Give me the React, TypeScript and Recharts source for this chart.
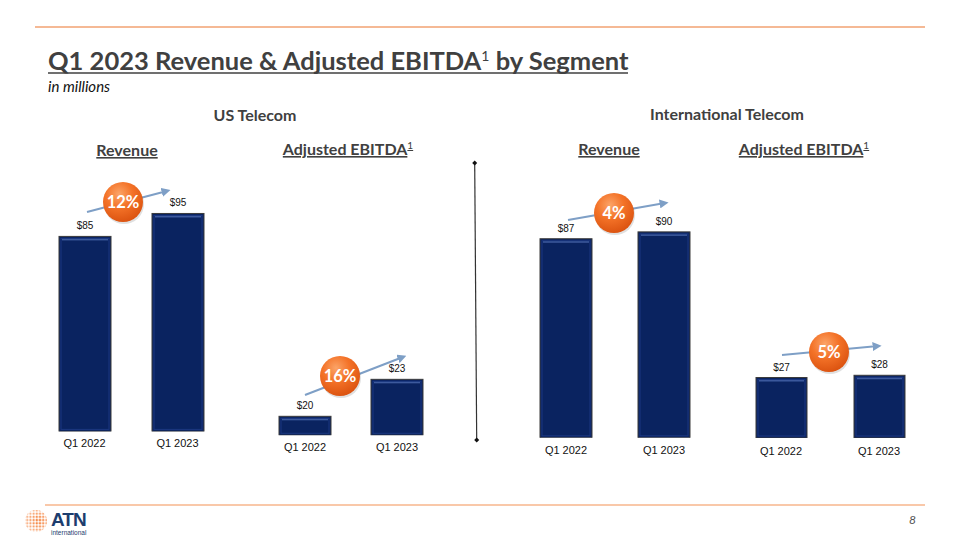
import { Bar, BarChart, LabelList, XAxis, YAxis } from "recharts";

const quarters = ["Q1 2022", "Q1 2023"];
const usRevenue = [85, 95];
const usEbitda = [20, 23];
const intlRevenue = [87, 90];
const intlEbitda = [27, 28];
const growthLabels = ["12%", "16%", "4%", "5%"];

const toRows = (values: number[]) => quarters.map((q, i) => ({ name: q, value: values[i] }));

const TEXT = "#404040";
const HEAD_FONT = "Lato, 'Open Sans', sans-serif";
const ARIAL = "Arial, 'Liberation Sans', sans-serif";
const NAVY = "#0a2360";

// bevelled navy bar like the slide's
function BevelBar(props: any) {
  const { x, y, width, height } = props;
  if (!height || height <= 0) return null;
  return (
    <g>
      <rect x={x} y={y} width={width} height={height} fill={NAVY} stroke="#3b3b3b" strokeWidth={1} />
      <rect x={x + 2} y={y + 2} width={width - 4} height={height - 4} fill="none" stroke="#1b3780" strokeWidth={1} />
      <rect x={x + 3} y={y + 2.5} width={width - 6} height={1.5} fill="#4a68ac" opacity={0.8} />
    </g>
  );
}

function QuarterTick(props: any) {
  const { x, y, payload, dy } = props;
  return (
    <text x={x} y={y + 8 + (dy || 0)} textAnchor="middle" fontSize={11} fill="#111" fontFamily={ARIAL}>
      {payload.value}
    </text>
  );
}

type PanelProps = {
  values: number[];
  left: number;
  plotTop: number;
  plotBottom: number;
  width: number;
  domain: [number, number];
  barSize: number;
  tickDy: number;
};

function Panel({ values, left, plotTop, plotBottom, width, domain, barSize, tickDy }: PanelProps) {
  const topPad = 30;
  const axisH = 30;
  const h = plotBottom - plotTop + topPad + axisH;
  return (
    <div style={{ position: "absolute", left, top: plotTop - topPad }}>
      <BarChart width={width} height={h} data={toRows(values)} margin={{ top: topPad, right: 0, bottom: 0, left: 0 }}>
        <XAxis
          dataKey="name"
          axisLine={false}
          tickLine={false}
          height={axisH}
          interval={0}
          tick={(p: any) => <QuarterTick {...p} dy={tickDy} />}
        />
        <YAxis hide type="number" domain={domain} allowDataOverflow />
        <Bar dataKey="value" barSize={barSize} shape={<BevelBar />} isAnimationActive={false}>
          <LabelList
            dataKey="value"
            position="top"
            offset={7}
            formatter={(v: any) => `$${v}`}
            style={{ fontSize: 10, fill: "#111", fontFamily: ARIAL }}
          />
        </Bar>
      </BarChart>
    </div>
  );
}

function Callout({ cx, cy, label, from, to }: { cx: number; cy: number; label: string; from: [number, number]; to: [number, number] }) {
  return (
    <g>
      <line x1={from[0]} y1={from[1]} x2={to[0]} y2={to[1]} stroke="#7e9fc6" strokeWidth={2} markerEnd="url(#arrow2)" />
      <circle cx={cx + 1} cy={cy + 2} r={20} fill="#000" opacity={0.12} />
      <circle cx={cx} cy={cy} r={20} fill="url(#orangeBall2)" />
      <text x={cx} y={cy + 6} textAnchor="middle" fontSize={16.5} fontWeight={700} fill="#fff" fontFamily={HEAD_FONT}>
        {label}
      </text>
    </g>
  );
}

function SubHead({ x, y, text, sup }: { x: number; y: number; text: string; sup?: boolean }) {
  return (
    <text x={x} y={y} textAnchor="middle" fontSize={16} fontWeight={700} fill={TEXT} fontFamily={HEAD_FONT} textDecoration="underline">
      {text}
      {sup && (
        <tspan fontSize={10} fontWeight={400} dy={-6}>
          1
        </tspan>
      )}
    </text>
  );
}

export default function App() {
  return (
    <div style={{ position: "fixed", left: 0, top: 0, width: 960, height: 540, background: "#fff", overflow: "hidden" }}>
      <svg width={960} height={540} style={{ position: "absolute", left: 0, top: 0 }}>
        <defs>
          <pattern id="dots" width="3.2" height="3.2" patternUnits="userSpaceOnUse">
            <circle cx="1.6" cy="1.6" r="1.2" fill="#f47a30" />
          </pattern>
          <radialGradient id="logoFade" cx="60%" cy="50%" r="60%">
            <stop offset="0%" stopColor="#fff" stopOpacity={0} />
            <stop offset="100%" stopColor="#fff" stopOpacity={0.55} />
          </radialGradient>
        </defs>

        <line x1={35} y1={27} x2={925} y2={27} stroke="#f2a272" strokeWidth={1.5} />
        <line x1={45} y1={505} x2={925} y2={505} stroke="#f7b68c" strokeWidth={1.5} />

        <text x={48} y={70} fontSize={25.5} fontWeight={700} fill={TEXT} fontFamily={HEAD_FONT}>
          Q1 2023 Revenue &amp; Adjusted EBITDA
          <tspan fontSize={14} fontWeight={400} dy={-9}>
            1
          </tspan>
          <tspan dy={9}> by Segment</tspan>
        </text>
        <line x1={48} y1={73} x2={628} y2={73} stroke={TEXT} strokeWidth={1.6} />
        <text x={48} y={92} fontSize={15} fontStyle="italic" fill="#111" fontFamily={HEAD_FONT}>
          in millions
        </text>

        <text x={255} y={121} textAnchor="middle" fontSize={16} fontWeight={700} fill={TEXT} fontFamily={HEAD_FONT}>
          US Telecom
        </text>
        <text x={727} y={120} textAnchor="middle" fontSize={16} fontWeight={700} fill={TEXT} fontFamily={HEAD_FONT}>
          International Telecom
        </text>
        <SubHead x={127} y={156} text="Revenue" />
        <SubHead x={348} y={155} text="Adjusted EBITDA" sup />
        <SubHead x={609} y={155} text="Revenue" />
        <SubHead x={804} y={155} text="Adjusted EBITDA" sup />

        <line x1={474.7} y1={163} x2={476.7} y2={440} stroke="#333" strokeWidth={1.2} />
        <path d="M474.7,160.5 L477.2,163 L474.7,165.5 L472.2,163 z" fill="#111" />
        <path d="M476.7,437.5 L479.2,440 L476.7,442.5 L474.2,440 z" fill="#111" />

        <text x={916} y={524} textAnchor="end" fontSize={12} fontStyle="italic" fill="#555" fontFamily={HEAD_FONT}>
          8
        </text>

        <circle cx={36} cy={521} r={11} fill="url(#dots)" />
        <circle cx={36} cy={521} r={11} fill="url(#logoFade)" />
        <text x={51} y={526} fontSize={19} fontWeight={700} fill="#1d3d6e" fontFamily={ARIAL} letterSpacing={-1}>
          ATN
        </text>
        <text x={51} y={535} fontSize={6.5} fill="#1d3d6e" fontFamily={ARIAL}>
          international
        </text>
      </svg>

      <Panel values={usRevenue} left={37.5} plotTop={201.6} plotBottom={431} width={186} domain={[0, 100]} barSize={52} tickDy={0} />
      <Panel values={usEbitda} left={259} plotTop={366.7} plotBottom={435} width={184} domain={[18.46, 24]} barSize={52} tickDy={0} />
      <Panel values={intlRevenue} left={517} plotTop={209.2} plotBottom={438} width={196} domain={[0, 100]} barSize={52} tickDy={0} />
      <Panel values={intlEbitda} left={731.5} plotTop={214} plotBottom={438} width={196} domain={[0, 100]} barSize={51} tickDy={1} />

      <svg width={960} height={540} style={{ position: "absolute", left: 0, top: 0, pointerEvents: "none" }}>
        <defs>
          <radialGradient id="orangeBall2" cx="40%" cy="30%" r="75%">
            <stop offset="0%" stopColor="#fba468" />
            <stop offset="45%" stopColor="#f47328" />
            <stop offset="100%" stopColor="#d9500e" />
          </radialGradient>
          <marker id="arrow2" viewBox="0 0 10 10" refX="6" refY="5" markerWidth="4.5" markerHeight="4.5" orient="auto">
            <path d="M0,0 L10,5 L0,10 z" fill="#7e9fc6" />
          </marker>
        </defs>
        <Callout cx={123} cy={202} label={growthLabels[0]} from={[87, 212]} to={[167, 191]} />
        <Callout cx={340} cy={376} label={growthLabels[1]} from={[305, 395]} to={[403, 357]} />
        <Callout cx={614} cy={213} label={growthLabels[2]} from={[568, 220]} to={[665, 203]} />
        <Callout cx={829} cy={352} label={growthLabels[3]} from={[782, 355]} to={[878, 346]} />
      </svg>
    </div>
  );
}
